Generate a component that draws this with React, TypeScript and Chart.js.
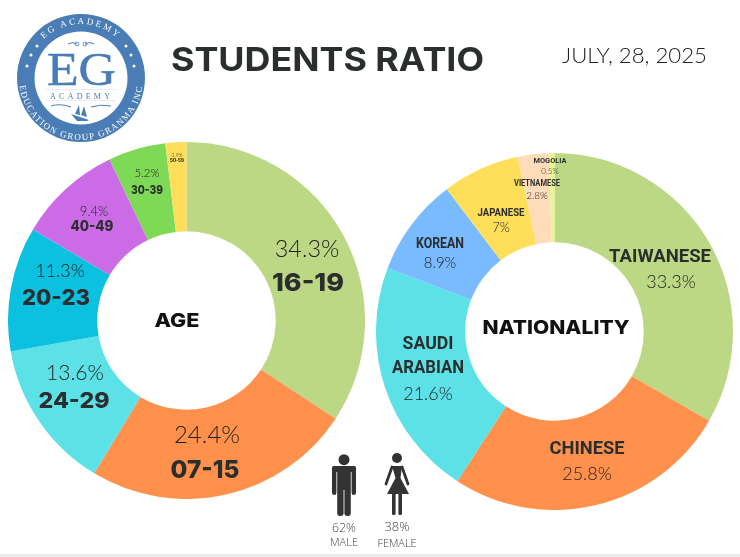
import React, { useEffect, useRef } from "react";
import { Chart, registerables } from "chart.js";

Chart.register(...registerables);

const ageLabels = ["16-19", "07-15", "24-29", "20-23", "40-49", "30-39", "50-59"];
const ageValues = [34.3, 24.4, 13.6, 11.3, 9.4, 5.2, 1.9];
const ageColors = ["#BDD884", "#FF914D", "#5CE1E6", "#0CC0DF", "#CB6CE6", "#7ED957", "#FFDE59"];

const nationLabels = ["TAIWANESE", "CHINESE", "SAUDI ARABIAN", "KOREAN", "JAPANESE", "VIETNAMESE", "MOGOLIA"];
const nationValues = [33.3, 25.8, 21.6, 8.9, 7, 2.8, 0.5];
const nationColors = ["#BDD884", "#FF914D", "#5CE1E6", "#7ABAFF", "#FFDE59", "#FFDDBA", "#E6F78F"];

const DARK = "#2B2E2F";
const BOLD = "Inter, 'Open Sans', sans-serif";
const LIGHT = "Lato, 'Open Sans', sans-serif";
const NARROW = "Roboto, 'Liberation Sans', sans-serif";

type L = { i: number; px: number; py: number; lx: number; ly: number; ps: number; ls: number; lw: number };
const ageLayout: L[] = [
  { i: 0, px: 307, py: 257, lx: 308, ly: 291, ps: 23.5, ls: 25, lw: 72 },
  { i: 1, px: 207, py: 443, lx: 205, ly: 478, ps: 24, ls: 25, lw: 69 },
  { i: 2, px: 75, py: 380, lx: 74, ly: 408, ps: 21, ls: 22, lw: 71 },
  { i: 3, px: 60, py: 277, lx: 56, ly: 305, ps: 18, ls: 22, lw: 68 },
  { i: 4, px: 94, py: 216, lx: 92, ly: 231, ps: 13, ls: 14, lw: 43 },
  { i: 5, px: 147, py: 177, lx: 147, ly: 194, ps: 11.5, ls: 12, lw: 32 },
  { i: 6, px: 177, py: 157, lx: 177, ly: 162, ps: 5, ls: 4.5, lw: 14 },
];
const nationLayout: L[] = [
  { i: 0, px: 671, py: 288, lx: 660, ly: 262, ps: 18, ls: 19, lw: 102 },
  { i: 1, px: 587, py: 480, lx: 587, ly: 454, ps: 18, ls: 19, lw: 75 },
  { i: 3, px: 440, py: 268, lx: 440, ly: 248, ps: 15, ls: 14, lw: 48 },
  { i: 4, px: 501, py: 232, lx: 501, ly: 216, ps: 13, ls: 11, lw: 47 },
  { i: 5, px: 537, py: 199, lx: 537, ly: 186, ps: 10, ls: 8.5, lw: 46 },
  { i: 6, px: 550, py: 174, lx: 550, ly: 163, ps: 8, ls: 8, lw: 33 },
];

function Donut({ values, colors, labels, left, top }: { values: number[]; colors: string[]; labels: string[]; left: number; top: number }) {
  const ref = useRef<HTMLCanvasElement>(null);
  useEffect(() => {
    const chart = new Chart(ref.current!, {
      type: "doughnut",
      data: { labels, datasets: [{ data: values, backgroundColor: colors, borderWidth: 0 }] },
      options: {
        responsive: false,
        animation: false,
        cutout: "50%",
        layout: { padding: 0 },
        plugins: { legend: { display: false }, tooltip: { enabled: false } },
      },
    });
    return () => chart.destroy();
  }, []);
  return <canvas ref={ref} width={357} height={357} style={{ position: "absolute", left, top, width: 357, height: 357 }} />;
}

function SliceText({ l, labels, values, narrow }: { l: L; labels: string[]; values: number[]; narrow: boolean }) {
  return (
    <>
      <text x={l.px} y={l.py} textAnchor="middle" fontFamily={LIGHT} fontWeight={300} fontSize={l.ps} fill="#222">{values[l.i]}%</text>
      <text x={l.lx} y={l.ly} textAnchor="middle" fontFamily={narrow ? NARROW : BOLD} fontWeight={narrow ? 700 : 800} fontSize={l.ls} fill={DARK} textLength={l.lw} lengthAdjust="spacingAndGlyphs">{labels[l.i]}</text>
    </>
  );
}

function Logo() {
  const blue = "#4A7DB5";
  const dots = [[27, 66], [31, 55], [37, 46], [126, 46], [131, 55], [134, 66]];
  return (
    <g>
      <circle cx={81} cy={78} r={64} fill={blue} />
      <circle cx={81} cy={78} r={46.5} fill="#fff" />
      <defs>
        <path id="arcTop" d="M 27 78 A 54 54 0 0 1 135 78" />
        <path id="arcBot" d="M 19 78 A 62 62 0 0 0 143 78" />
      </defs>
      <text fontFamily="'Liberation Serif', serif" fontSize={9} fill="#fff" letterSpacing={2.3}>
        <textPath href="#arcTop" startOffset="50%" textAnchor="middle">EG ACADEMY</textPath>
      </text>
      <text fontFamily="'Liberation Serif', serif" fontSize={9} fill="#fff" letterSpacing={1.35}>
        <textPath href="#arcBot" startOffset="50%" textAnchor="middle">EDUCATION GROUP GRANMA INC</textPath>
      </text>
      {dots.map(([x, y], i) => (
        <circle key={i} cx={x} cy={y} r={1.5} fill="#fff" />
      ))}
      <text x={81.5} y={85} textAnchor="middle" fontFamily="'Liberation Serif', serif" fontSize={47} fill={blue} stroke={blue} strokeWidth={0.5} textLength={69} lengthAdjust="spacingAndGlyphs">EG</text>
      <line x1={46} y1={89.5} x2={116} y2={89.5} stroke="#dbe5ef" strokeWidth={0.7} />
      <line x1={46} y1={100.5} x2={116} y2={100.5} stroke="#dbe5ef" strokeWidth={0.7} />
      <text x={80} y={98.5} textAnchor="middle" fontFamily="'Liberation Serif', serif" fontSize={8} fill={blue} textLength={60}>ACADEMY</text>
      <path d="M68 44 q5 -3 9 0 M85 44 q5 -3 9 0" stroke={blue} strokeWidth={1} fill="none" />
      <circle cx={77} cy={44} r={2} fill="none" stroke={blue} strokeWidth={0.8} />
      <circle cx={85} cy={44} r={2} fill="none" stroke={blue} strokeWidth={0.8} />
      <path d="M51 106 q9 -3 20 1 M91 107 q9 -3 20 -1" stroke={blue} strokeWidth={1} fill="none" />
      <path d="M71 114 l18 6 l-2 1 h-10 z M75 114 l4 -9 l1 10 z M81 115 l3 -9 l3 11 z" fill={blue} />
    </g>
  );
}

function Man({ x }: { x: number }) {
  return (
    <g fill="#333">
      <circle cx={x} cy={459.7} r={5.5} />
      <rect x={x - 12} y={466} width={24} height={6} rx={3} />
      <rect x={x - 12} y={466} width={4.4} height={29} rx={2.2} />
      <rect x={x + 7.6} y={466} width={4.4} height={29} rx={2.2} />
      <rect x={x - 6.8} y={466} width={13.6} height={24} />
      <rect x={x - 6.8} y={488} width={6.4} height={28} rx={3} />
      <rect x={x + 0.4} y={488} width={6.4} height={28} rx={3} />
    </g>
  );
}

function Woman({ x }: { x: number }) {
  return (
    <g fill="#333">
      <circle cx={x} cy={458} r={5} />
      <path d={`M${x - 5} 466 h10 l-1.5 12 l8.5 16 h-22 l8.5 -16 z`} />
      <path d={`M${x - 5} 467 l-6 17 M${x + 5} 467 l6 17`} stroke="#333" strokeWidth={2.8} strokeLinecap="round" fill="none" />
      <rect x={x - 5} y={493} width={3.6} height={22} rx={1.5} />
      <rect x={x + 1.4} y={493} width={3.6} height={22} rx={1.5} />
    </g>
  );
}

export default function App() {
  const small = { textAnchor: "middle" as const, fontFamily: "'Open Sans', sans-serif", fontWeight: 300, fill: "#444", lengthAdjust: "spacingAndGlyphs" as const };
  return (
    <div style={{ position: "absolute", left: 0, top: 0, width: 740, height: 557, background: "#fff", overflow: "hidden" }}>
      <Donut values={ageValues} colors={ageColors} labels={ageLabels} left={8} top={142} />
      <Donut values={nationValues} colors={nationColors} labels={nationLabels} left={376} top={153} />
      <svg width={740} height={557} style={{ position: "absolute", left: 0, top: 0 }}>
        <rect x={0} y={554} width={740} height={3} fill="#ECECEF" />
        <Logo />
        <text x={171} y={71} fontFamily={BOLD} fontWeight={700} fontSize={33} fill={DARK} textLength={313} lengthAdjust="spacingAndGlyphs">STUDENTS RATIO</text>
        <text x={562} y={63} fontFamily={LIGHT} fontWeight={300} fontSize={22} fill="#222" textLength={145} lengthAdjust="spacingAndGlyphs">JULY, 28, 2025</text>
        {ageLayout.map((l) => <SliceText key={l.i} l={l} labels={ageLabels} values={ageValues} narrow={false} />)}
        {nationLayout.map((l) => <SliceText key={l.i} l={l} labels={nationLabels} values={nationValues} narrow />)}
        <text x={428} y={349} textAnchor="middle" fontFamily={NARROW} fontWeight={700} fontSize={18} fill={DARK} textLength={51} lengthAdjust="spacingAndGlyphs">SAUDI</text>
        <text x={428} y={373} textAnchor="middle" fontFamily={NARROW} fontWeight={700} fontSize={18} fill={DARK} textLength={72} lengthAdjust="spacingAndGlyphs">ARABIAN</text>
        <text x={428} y={400} textAnchor="middle" fontFamily={LIGHT} fontWeight={300} fontSize={18} fill="#222">{nationValues[2]}%</text>
        <text x={177} y={327} textAnchor="middle" fontFamily={BOLD} fontWeight={800} fontSize={19} fill="#111" textLength={45} lengthAdjust="spacingAndGlyphs">AGE</text>
        <text x={556} y={334} textAnchor="middle" fontFamily={BOLD} fontWeight={800} fontSize={19} fill="#111" textLength={147} lengthAdjust="spacingAndGlyphs">NATIONALITY</text>
        <Man x={344} />
        <Woman x={397} />
        <text x={344} y={532} {...small} fontSize={12} textLength={24}>62%</text>
        <text x={344} y={546} {...small} fontSize={10} textLength={28}>MALE</text>
        <text x={397} y={531} {...small} fontSize={12} textLength={25}>38%</text>
        <text x={397} y={547} {...small} fontSize={10} textLength={39}>FEMALE</text>
      </svg>
    </div>
  );
}
